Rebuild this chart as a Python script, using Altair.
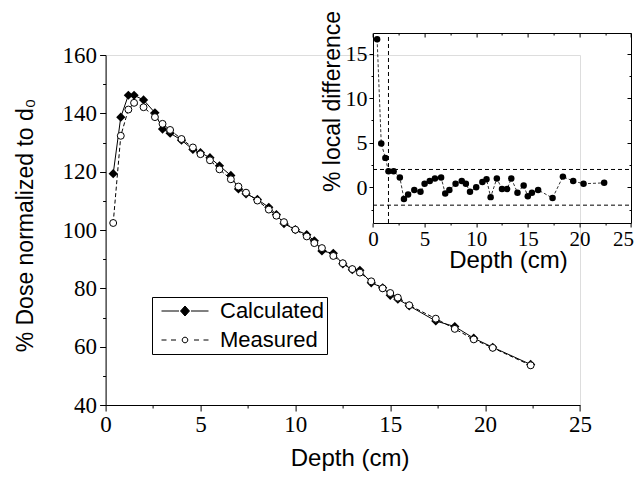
import altair as alt
import pandas as pd

# ---------------- data ----------------
depth = [0.4, 0.8, 1.2, 1.5, 2.0, 2.6, 3.0, 3.4, 4.0, 4.6, 5.0, 5.5, 6.0, 6.6, 7.0, 7.4,
         8.0, 8.6, 9.0, 9.4, 10.0, 10.6, 11.0, 11.4, 12.0, 12.5, 13.0, 13.4, 14.0, 14.6,
         15.0, 15.4, 16.0, 17.4, 18.4, 19.4, 20.4, 22.4]
measured = [102.4, 132.3, 141.3, 143.6, 142.1, 138.7, 136.4, 134.3, 131.2, 128.3, 126.0,
            123.9, 120.8, 117.4, 114.9, 112.8, 110.1, 107.0, 104.9, 102.7, 100.1, 97.8,
            95.5, 93.8, 91.1, 88.6, 86.6, 85.4, 82.4, 80.0, 78.4, 76.8, 74.2, 69.6, 66.1,
            62.5, 59.6, 53.6]
calculated = [119.3, 138.7, 146.2, 146.2, 144.6, 140.2, 134.6, 133.2, 130.8, 127.6, 126.5,
              124.8, 122.0, 118.7, 114.1, 112.4, 110.5, 107.8, 105.3, 102.2, 100.1, 98.4,
              96.3, 92.8, 92.0, 88.4, 86.4, 86.2, 81.9, 80.2, 77.6, 76.3, 74.0, 68.8, 66.9,
              62.9, 59.8, 53.9]
local_diff = [16.6, 4.9, 3.3, 1.8, 1.8, 1.1, -1.3, -0.8, -0.3, -0.5, 0.4, 0.7, 1.0, 1.1,
              -0.7, -0.3, 0.4, 0.7, 0.4, -0.5, 0.0, 0.6, 0.9, -1.1, 1.0, -0.2, -0.2, 1.0,
              -0.6, 0.2, -1.0, -0.6, -0.3, -1.2, 1.2, 0.7, 0.4, 0.5]
series_names = ["Calculated", "Measured"]
diff_limits = [2, -2]
dmax_depth = [1.5]

main_x_ticks = [0, 2.5, 5, 7.5, 10, 12.5, 15, 17.5, 20, 22.5, 25]
main_y_ticks = [40, 50, 60, 70, 80, 90, 100, 110, 120, 130, 140, 150, 160]
inset_x_ticks = [0, 2.5, 5, 7.5, 10, 12.5, 15, 17.5, 20, 22.5, 25]
inset_y_ticks = [-2.5, 0, 2.5, 5, 7.5, 10, 12.5, 15]
inset_x_domain = [0, 25]
inset_y_domain = [-4, 17.3]

# ---------------- tables ----------------
df_calc = pd.DataFrame({"depth": depth, "dose": calculated})
df_meas = pd.DataFrame({"depth": depth, "dose": measured})
df_long = pd.DataFrame({"depth": depth + depth, "dose": calculated + measured,
                        "series": [series_names[0]] * len(depth) + [series_names[1]] * len(depth)})
df_diff = pd.DataFrame({"depth": depth, "diff": local_diff})
df_hl = pd.DataFrame({"x0": [inset_x_domain[0]] * 2, "x1": [inset_x_domain[1]] * 2, "y": diff_limits})
df_vl = pd.DataFrame({"x": dmax_depth, "y0": [inset_y_domain[0]], "y1": [inset_y_domain[1]]})

SANS = "Liberation Sans, Arial, sans-serif"
SERIF = "Liberation Serif, 'Times New Roman', DejaVu Serif, serif"

W, H = 474.4, 350


def cond(test, a, b):
    return {"condition": {"test": test, "value": a}, "value": b}


common = dict(grid=False, domainColor="black", tickColor="black", labelColor="black",
              domainWidth=1, tickWidth=1, labelFlush=False, labelOverlap=False,
              titleColor="black", titleFontWeight="normal")

# ---------------- main chart ----------------
xs_main = alt.Scale(domain=[0, 25], nice=False, zero=False)
ys_main = alt.Scale(domain=[40, 160], nice=False, zero=False)
x_axis_main = alt.Axis(values=main_x_ticks,
                       labelExpr="datum.value % 5 === 0 ? datum.label : ''",
                       tickSize=cond("datum.value % 5 === 0", 6, 3),
                       labelFont=SERIF, labelFontSize=23, labelPadding=2,
                       title="Depth (cm)", titleFont=SANS, titleFontSize=24,
                       titleX=244, titleY=60, titleAlign="center", titleBaseline="alphabetic",
                       **common)
y_axis_main = alt.Axis(values=main_y_ticks,
                       labelExpr="datum.value % 20 === 0 ? datum.label : ''",
                       tickSize=cond("datum.value % 20 === 0", 6, 3),
                       labelFont=SERIF, labelFontSize=23, labelPadding=3,
                       title="% Dose normalized to d₀", titleFont=SANS, titleFontSize=23,
                       titleAngle=270, titleX=-73, titleY=170, titleAlign="center",
                       titleBaseline="alphabetic", **common)
xm = alt.X("depth:Q", scale=xs_main, axis=x_axis_main)
ym = alt.Y("dose:Q", scale=ys_main, axis=y_axis_main)

line_calc = alt.Chart(df_calc).mark_line(color="black", strokeWidth=1).encode(x=xm, y=ym)
line_meas = alt.Chart(df_meas).mark_line(color="black", strokeWidth=1, strokeDash=[4, 2.5]).encode(x=xm, y=ym)
pts_calc = alt.Chart(df_calc).mark_point(shape="diamond", filled=True, color="black",
                                         size=85, opacity=1).encode(x=xm, y=ym)
pts_meas = alt.Chart(df_meas).mark_point(shape="circle", filled=True, fill="white",
                                         stroke="black", strokeWidth=1, size=48,
                                         opacity=1).encode(x=xm, y=ym)

calc_path = "M-2.35,0L-0.6,0M0.6,0L2.35,0M0,-0.5L0.45,0L0,0.5L-0.45,0Z"
meas_path = ("M-2.35,0L-1.85,0M-1.4,0L-0.9,0M0.9,0L1.4,0M1.85,0L2.35,0"
             "M-0.28,0A0.28,0.28,0,1,0,0.28,0A0.28,0.28,0,1,0,-0.28,0Z")
legend = alt.Legend(orient="none", legendX=46.4, legendY=242, title=None,
                    strokeColor="black", padding=3, symbolSize=400,
                    symbolStrokeWidth=1, symbolStrokeColor="black", symbolOpacity=1,
                    symbolOffset=19, labelOffset=24, labelFont=SANS, labelFontSize=22,
                    labelColor="black", labelLimit=0, rowPadding=7)
legend_layer = alt.Chart(df_long).mark_point(opacity=0, filled=True, strokeWidth=1).encode(
    x=xm, y=ym,
    shape=alt.Shape("series:N", scale=alt.Scale(domain=series_names, range=[calc_path, meas_path]),
                    legend=legend),
    fill=alt.Fill("series:N", scale=alt.Scale(domain=series_names, range=["black", "white"]),
                  legend=legend),
    stroke=alt.Stroke("series:N", scale=alt.Scale(domain=series_names, range=["black", "black"]),
                      legend=legend),
)
main = alt.layer(line_calc, line_meas, pts_calc, pts_meas, legend_layer)

# ---------------- inset ----------------
I_LEFT, I_RIGHT, I_TOP, I_BOTTOM = 267.4, 525.4, -22, 168
xs_in = alt.Scale(domain=inset_x_domain, range=[I_LEFT, I_RIGHT], nice=False, zero=False)
ys_in = alt.Scale(domain=inset_y_domain, range=[I_BOTTOM, I_TOP], nice=False, zero=False)
x_axis_in = alt.Axis(orient="bottom", offset=I_BOTTOM - H, values=inset_x_ticks,
                     labelExpr="datum.value % 5 === 0 ? datum.label : ''",
                     tickSize=cond("datum.value % 5 === 0", 4, 2),
                     labelOffset=cond("datum.value === 25", -8, 0),
                     labelFont=SERIF, labelFontSize=21, labelPadding=1,
                     title="Depth (cm)", titleFont=SANS, titleFontSize=24,
                     titleX=402.4, titleY=44, titleAlign="center", titleBaseline="alphabetic",
                     **common)
y_axis_in = alt.Axis(orient="left", offset=-I_LEFT, values=inset_y_ticks,
                     labelExpr="datum.value % 5 === 0 ? datum.label : ''",
                     tickSize=cond("datum.value % 5 === 0", 4, 2),
                     labelFont=SERIF, labelFontSize=22, labelPadding=2,
                     title="% local difference", titleFont=SANS, titleFontSize=23,
                     titleAngle=270, titleX=-34, titleY=46, titleAlign="center",
                     titleBaseline="alphabetic", **common)

vline = alt.Chart(df_vl).mark_rule(color="black", strokeWidth=1, strokeDash=[4, 3]).encode(
    x=alt.X("x:Q", scale=xs_in, axis=x_axis_in),
    y=alt.Y("y0:Q", scale=ys_in, axis=y_axis_in), y2="y1:Q")
diff_line = alt.Chart(df_diff).mark_line(color="black", strokeWidth=0.8, strokeDash=[3, 2]).encode(
    x=alt.X("depth:Q", scale=xs_in, axis=x_axis_in),
    y=alt.Y("diff:Q", scale=ys_in, axis=y_axis_in))
diff_pts = alt.Chart(df_diff).mark_circle(color="black", size=42, opacity=1).encode(
    x=alt.X("depth:Q", scale=xs_in, axis=x_axis_in),
    y=alt.Y("diff:Q", scale=ys_in, axis=y_axis_in))
inset = alt.layer(vline, diff_line, diff_pts)

# box (top/right edges of inset, inward ticks)
box_x_axis = alt.Axis(orient="bottom", offset=I_TOP - H, values=inset_x_ticks, labels=False,
                      tickSize=cond("datum.value % 5 === 0", 4, 2), title=None,
                      grid=False, domainColor="black", tickColor="black", domainWidth=1, tickWidth=1)
box_y_axis = alt.Axis(orient="left", offset=-I_RIGHT, values=inset_y_ticks, labels=False,
                      tickSize=cond("datum.value % 5 === 0", 4, 2), title=None,
                      grid=False, domainColor="black", tickColor="black", domainWidth=1, tickWidth=1)
hlines = alt.Chart(df_hl).mark_rule(color="black", strokeWidth=1, strokeDash=[4, 3]).encode(
    x=alt.X("x0:Q", scale=xs_in, axis=box_x_axis), x2="x1:Q",
    y=alt.Y("y:Q", scale=ys_in, axis=box_y_axis))
box = alt.layer(hlines)

chart = alt.layer(main, inset, box).resolve_scale(
    x="independent", y="independent", shape="independent", fill="independent",
    stroke="independent"
).properties(
    width=W, height=H,
    autosize=alt.AutoSizeParams(type="none"),
    padding={"left": 97.6, "top": 47, "right": 56, "bottom": 68},
).configure_view(stroke=None).configure(background="white")

chart.save("out.html", embed_options={"renderer": "svg", "actions": False})
